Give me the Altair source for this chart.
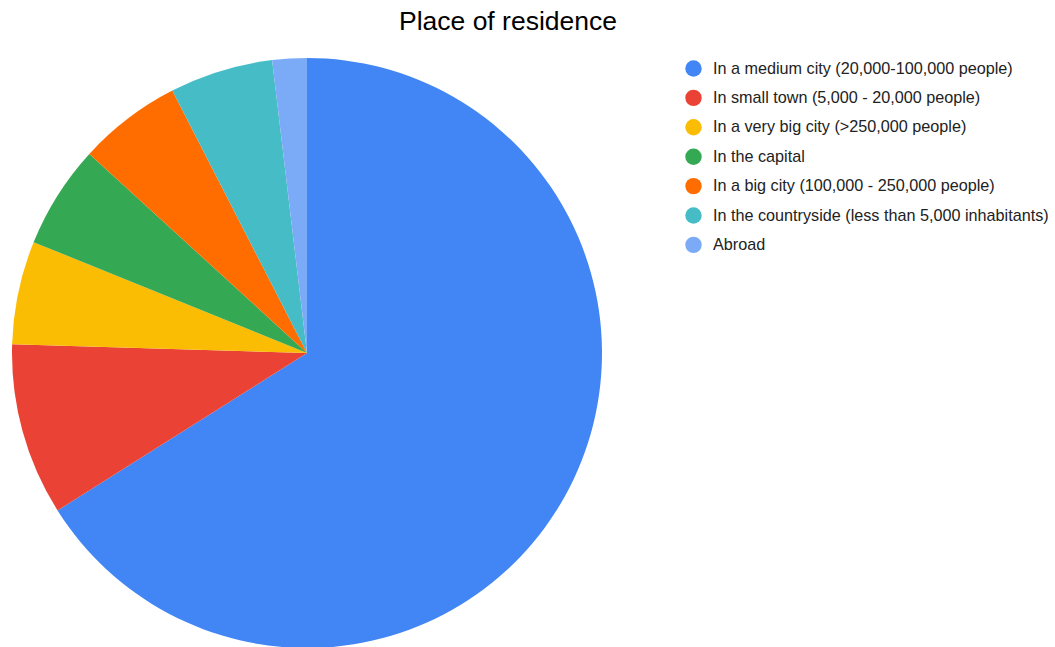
import altair as alt
import pandas as pd

categories = [
    "In a medium city (20,000-100,000 people)",
    "In small town (5,000 - 20,000 people)",
    "In a very big city (>250,000 people)",
    "In the capital",
    "In a big city (100,000 - 250,000 people)",
    "In the countryside (less than 5,000 inhabitants)",
    "Abroad",
]
counts = [35, 5, 3, 3, 3, 3, 1]
colors = ["#4285F4", "#EA4335", "#FBBC04", "#34A853", "#FF6D01", "#46BDC6", "#7BAAF7"]
title_text = "Place of residence"

df = pd.DataFrame({"category": categories, "count": counts, "idx": list(range(len(categories)))})

pie = alt.Chart(df).mark_arc(radius=295).encode(
    theta=alt.Theta("count:Q", stack=True),
    order=alt.Order("idx:Q", sort="ascending"),
    color=alt.Color(
        "category:N",
        sort=categories,
        scale=alt.Scale(domain=categories, range=colors),
        legend=alt.Legend(
            title=None,
            orient="none",
            legendX=685,
            legendY=60,
            symbolType="circle",
            symbolSize=270,
            symbolStrokeWidth=0,
            labelFont="Liberation Sans",
            labelFontSize=16.2,
            labelColor="#222222",
            labelOffset=11,
            labelLimit=400,
            rowPadding=12.4,
            padding=0,
        ),
    ),
    x=alt.value(307),
    y=alt.value(353),
)

title = alt.Chart(pd.DataFrame({"t": [title_text]})).mark_text(
    font="Liberation Sans", fontSize=26.5, color="#000000", align="center", baseline="alphabetic"
).encode(
    text="t:N",
    x=alt.value(508),
    y=alt.value(29.5),
)

chart = alt.layer(pie, title).properties(
    width=1055,
    height=647,
    autosize=alt.AutoSizeParams(type="none"),
    padding=0,
    background="white",
).configure_view(stroke=None)

chart.save("out.html", embed_options={"renderer": "svg", "actions": False})
